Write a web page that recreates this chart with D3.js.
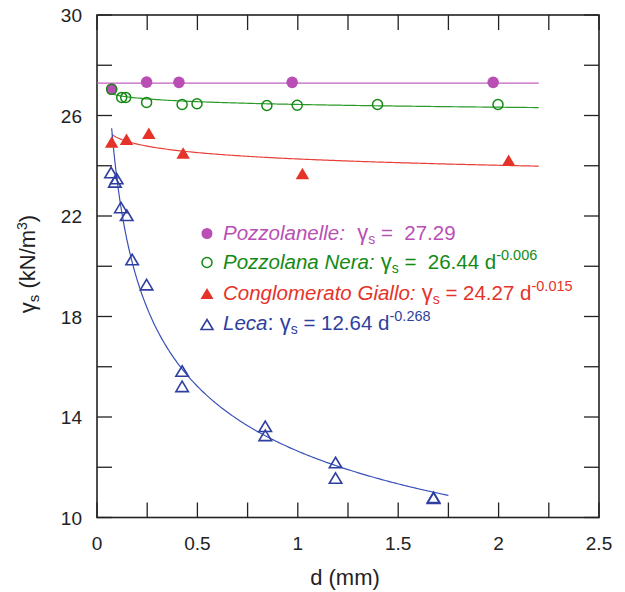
<!DOCTYPE html>
<html>
<head>
<meta charset="utf-8">
<script src="https://cdn.jsdelivr.net/npm/d3@7"></script>
<style>
  html, body { margin: 0; padding: 0; background: #fff; }
  svg text { font-family: "Liberation Sans", Arial, Helvetica, sans-serif; white-space: pre; }
</style>
</head>
<body>
<svg id="chart" width="625" height="592"></svg>
<script>
// Particle specific weight γs versus grain diameter d for four materials
const xTicks = [0, 0.5, 1, 1.5, 2, 2.5];
const yTicks = [10, 14, 18, 22, 26, 30];

// Pozzolanelle
const pozzolanelleD = [0.073, 0.247, 0.408, 0.972, 1.973];
const pozzolanelleG = [27.05, 27.33, 27.32, 27.32, 27.32];
// Pozzolana Nera
const neraD = [0.073, 0.123, 0.143, 0.247, 0.424, 0.498, 0.846, 0.997, 1.397, 1.997];
const neraG = [27.04, 26.72, 26.72, 26.52, 26.44, 26.47, 26.40, 26.41, 26.44, 26.44];
// Conglomerato Giallo
const gialloD = [0.073, 0.147, 0.258, 0.429, 1.023, 2.05];
const gialloG = [24.95, 25.05, 25.29, 24.51, 23.69, 24.22];
// Leca
const lecaD = [0.070, 0.098, 0.089, 0.119, 0.148, 0.175, 0.247, 0.424, 0.424, 0.838, 0.838, 1.188, 1.188, 1.676, 1.676];
const lecaG = [23.73, 23.49, 23.36, 22.34, 22.03, 20.27, 19.27, 15.83, 15.22, 13.63, 13.27, 12.19, 11.57, 10.80, 10.77];

// Fitted power laws γs = a · d^b
const fitA = { pozzolanelle: 27.29, nera: 26.44, giallo: 24.27, leca: 12.64 };
const fitB = { pozzolanelle: 0, nera: -0.006, giallo: -0.015, leca: -0.268 };
const fitRange = { pozzolanelle: [0, 2.2], nera: [0.073, 2.2], giallo: [0.073, 2.2], leca: [0.073, 1.75] };

const colors = {
  pozzolanelle: "#b94fb5",
  nera: "#148a14",
  giallo: "#e5332a",
  leca: "#2f3f9f"
};
const lineColors = {
  pozzolanelle: "#c060c0",
  nera: "#2a9a2a",
  giallo: "#e84038",
  leca: "#3a52b8"
};

const svg = d3.select("#chart");
const m = { left: 97, right: 599, top: 15, bottom: 517.5 };

const x = d3.scaleLinear().domain([0, 2.5]).range([m.left, m.right]);
const y = d3.scaleLinear().domain([10, 30]).range([m.bottom, m.top]);

// Frame
svg.append("rect")
  .attr("x", m.left).attr("y", m.top)
  .attr("width", m.right - m.left).attr("height", m.bottom - m.top)
  .attr("fill", "none").attr("stroke", "#222").attr("stroke-width", 1.6);

// Inward ticks on all four sides
const tickLen = 15;
const xMinor = d3.range(0, 2.5001, 0.25);
const yMinor = d3.range(10, 30.001, 2);
const tg = svg.append("g").attr("stroke", "#222").attr("stroke-width", 1.3);
xMinor.forEach(v => {
  tg.append("line").attr("x1", x(v)).attr("x2", x(v)).attr("y1", m.bottom).attr("y2", m.bottom - tickLen);
  tg.append("line").attr("x1", x(v)).attr("x2", x(v)).attr("y1", m.top).attr("y2", m.top + tickLen);
});
yMinor.forEach(v => {
  tg.append("line").attr("y1", y(v)).attr("y2", y(v)).attr("x1", m.left).attr("x2", m.left + tickLen);
  tg.append("line").attr("y1", y(v)).attr("y2", y(v)).attr("x1", m.right).attr("x2", m.right - tickLen);
});

// Tick labels
svg.append("g").selectAll("text").data(xTicks).join("text")
  .attr("x", d => x(d)).attr("y", 550)
  .attr("text-anchor", "middle").attr("font-size", 19).attr("fill", "#222")
  .text(d => d3.format("")(d));
svg.append("g").selectAll("text").data(yTicks).join("text")
  .attr("x", 82).attr("y", d => y(d) + 7)
  .attr("text-anchor", "end").attr("font-size", 19).attr("fill", "#222")
  .text(d => d);

// Axis titles
svg.append("text")
  .attr("x", 345).attr("y", 585)
  .attr("text-anchor", "middle").attr("font-size", 22).attr("fill", "#222")
  .text("d (mm)");
const yt = svg.append("text")
  .attr("transform", "translate(34.5,264) rotate(-90)")
  .attr("text-anchor", "middle").attr("font-size", 22).attr("fill", "#222");
yt.append("tspan").text("γ");
yt.append("tspan").attr("font-size", 15).attr("dy", 4).text("s");
yt.append("tspan").attr("dy", -4).text(" (kN/m");
yt.append("tspan").attr("font-size", 14).attr("dy", -8).text("3");
yt.append("tspan").attr("dy", 8).text(")");

// Fitted curves
svg.append("clipPath").attr("id", "plotclip")
  .append("rect").attr("x", m.left).attr("y", m.top)
  .attr("width", m.right - m.left).attr("height", m.bottom - m.top);
const line = d3.line().x(d => x(d[0])).y(d => y(d[1]));
Object.keys(fitA).forEach(k => {
  const [d0, d1] = fitRange[k];
  const pts = d3.range(0, 201).map(i => {
    const d = d0 + (d1 - d0) * i / 200;
    const dd = Math.max(d, 1e-6);
    return [d, fitA[k] * Math.pow(dd, fitB[k])];
  });
  svg.append("path").datum(pts)
    .attr("d", line).attr("fill", "none")
    .attr("stroke", lineColors[k]).attr("stroke-width", 1.2)
    .attr("clip-path", "url(#plotclip)");
});

// Markers
function triPath(cx, cy, w, h) {
  return `M${cx},${cy - h / 2}L${cx + w / 2},${cy + h / 2}L${cx - w / 2},${cy + h / 2}Z`;
}

svg.append("g").selectAll("circle").data(d3.zip(pozzolanelleD, pozzolanelleG)).join("circle")
  .attr("cx", d => x(d[0])).attr("cy", d => y(d[1])).attr("r", 5.8)
  .attr("fill", colors.pozzolanelle);

svg.append("g").selectAll("circle").data(d3.zip(neraD, neraG)).join("circle")
  .attr("cx", d => x(d[0])).attr("cy", d => y(d[1])).attr("r", 5)
  .attr("fill", "none").attr("stroke", colors.nera).attr("stroke-width", 1.5);

svg.append("g").selectAll("path").data(d3.zip(gialloD, gialloG)).join("path")
  .attr("d", d => triPath(x(d[0]), y(d[1]), 13.5, 11.5))
  .attr("fill", colors.giallo);

svg.append("g").selectAll("path").data(d3.zip(lecaD, lecaG)).join("path")
  .attr("d", d => triPath(x(d[0]), y(d[1]), 12.5, 10.5))
  .attr("fill", "none").attr("stroke", colors.leca).attr("stroke-width", 1.6);

// Legend with fitted equations
const legend = svg.append("g");
const lx = 207, tx = 223;
const rows = [
  { key: "pozzolanelle", y: 239.5, name: "Pozzolanelle:", eq: "  γ", tail: " =  27.29", exp: null },
  { key: "nera", y: 268.5, name: "Pozzolana Nera:", eq: " γ", tail: " =  26.44 d", exp: "-0.006" },
  { key: "giallo", y: 299.5, name: "Conglomerato Giallo:", eq: " γ", tail: " = 24.27 d", exp: "-0.015" },
  { key: "leca", y: 329.5, name: "Leca", eq: ": γ", tail: " = 12.64 d", exp: "-0.268" }
];
rows.forEach(r => {
  const c = colors[r.key];
  const my = r.y - 6;
  if (r.key === "pozzolanelle") {
    legend.append("circle").attr("cx", lx).attr("cy", my).attr("r", 5.5).attr("fill", c);
  } else if (r.key === "nera") {
    legend.append("circle").attr("cx", lx).attr("cy", my).attr("r", 5).attr("fill", "none")
      .attr("stroke", c).attr("stroke-width", 1.5);
  } else if (r.key === "giallo") {
    legend.append("path").attr("d", triPath(lx, my, 13, 11)).attr("fill", c);
  } else {
    legend.append("path").attr("d", triPath(lx, my + 1, 12, 10)).attr("fill", "none")
      .attr("stroke", c).attr("stroke-width", 1.6);
  }
  const t = legend.append("text").attr("x", tx).attr("y", r.y)
    .attr("font-size", 20.5).attr("fill", c);
  t.append("tspan").attr("font-style", "italic").text(r.name);
  t.append("tspan").attr("font-size", 22).text(r.eq);
  t.append("tspan").attr("font-size", 14).attr("dy", 4).text("s");
  t.append("tspan").attr("dy", -4).text(r.tail);
  if (r.exp) {
    t.append("tspan").attr("font-size", 14.5).attr("dy", -9).text(r.exp);
  }
});
</script>
</body>
</html>
